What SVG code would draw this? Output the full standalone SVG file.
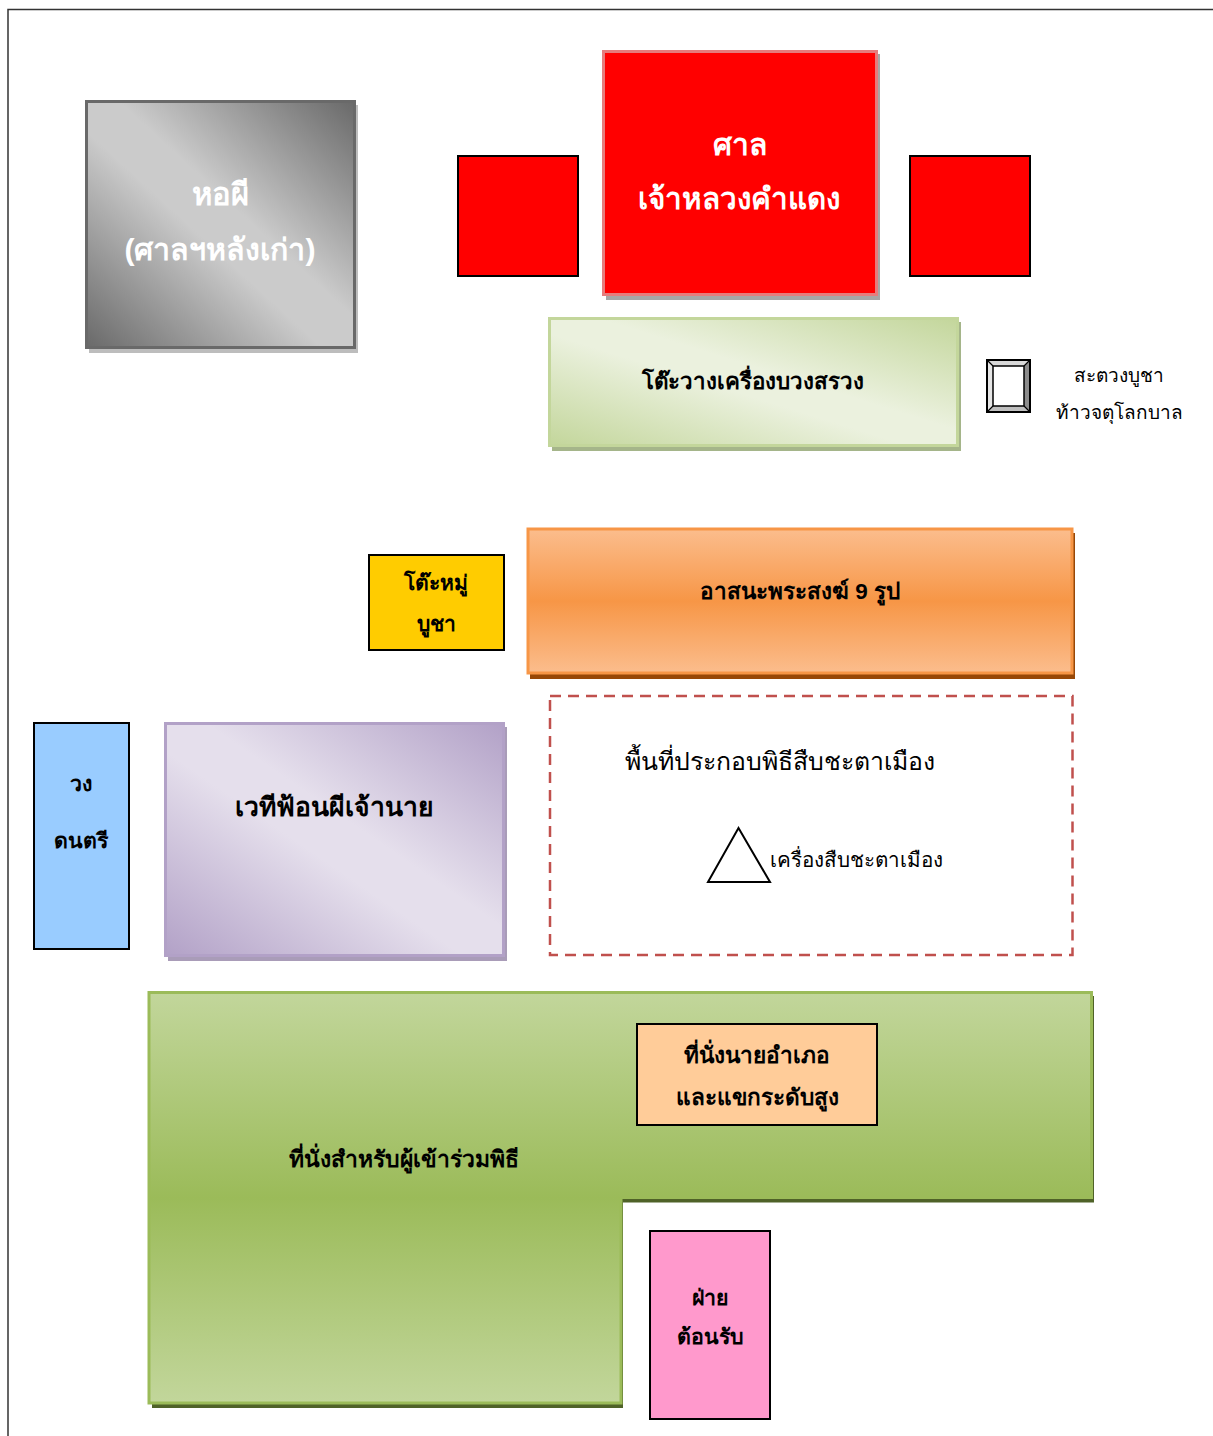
<svg xmlns="http://www.w3.org/2000/svg" width="1213" height="1436" viewBox="0 0 1213 1436">
<style>
text{font-family:"Liberation Sans","Noto Sans",sans-serif;text-anchor:middle;fill:#000}
.b{font-weight:700}
.k{stroke:#000;stroke-width:2}
</style>
<defs>
<linearGradient id="gGray" x1="1" y1="0" x2="0" y2="1"><stop offset="0" stop-color="#696969"/><stop offset=".44" stop-color="#cbcbcb"/><stop offset=".56" stop-color="#cbcbcb"/><stop offset="1" stop-color="#696969"/></linearGradient>
<linearGradient id="gLime" x1="1" y1="0" x2="0" y2="1"><stop offset="0" stop-color="#c3d69b"/><stop offset=".44" stop-color="#ebf1de"/><stop offset=".56" stop-color="#ebf1de"/><stop offset="1" stop-color="#c3d69b"/></linearGradient>
<linearGradient id="gPurple" x1="1" y1="0" x2="0" y2="1"><stop offset="0" stop-color="#b2a1c7"/><stop offset=".44" stop-color="#e5dfec"/><stop offset=".56" stop-color="#e5dfec"/><stop offset="1" stop-color="#b2a1c7"/></linearGradient>
<linearGradient id="gOrange" x1="0" y1="0" x2="0" y2="1"><stop offset="0" stop-color="#fbbd8d"/><stop offset=".5" stop-color="#f79646"/><stop offset="1" stop-color="#fbbd8d"/></linearGradient>
<linearGradient id="gGreen" x1="0" y1="0" x2="0" y2="1"><stop offset="0" stop-color="#c2d69b"/><stop offset=".5" stop-color="#9bbb59"/><stop offset="1" stop-color="#c2d69b"/></linearGradient>
</defs>
<rect width="1213" height="1436" fill="#fff"/>
<g id="page-frame"><path d="M8 1436V9.500H1213" fill="none" stroke="#333" stroke-width="1.500"/></g>
<g id="connectors"/>
<g id="ghost-house">
<rect x="89" y="105" width="269" height="248" fill="#bdbdbd"/>
<rect x="86.500" y="101.500" width="268" height="246" fill="url(#gGray)" stroke="#696969" stroke-width="3"/>
<text class="b" x="220" y="205" font-size="31" style="fill:#fff">หอผี</text>
<text class="b" x="220" y="260" font-size="30.300" style="fill:#fff">(ศาลฯหลังเก่า)</text>
</g>
<g id="side-left"><rect class="k" x="458" y="156" width="120" height="120" fill="#f00"/></g>
<g id="side-right"><rect class="k" x="910" y="156" width="120" height="120" fill="#f00"/></g>
<g id="main-shrine">
<rect x="606" y="54" width="274" height="246" fill="#a6a6a6"/>
<rect x="603.500" y="51.500" width="273" height="243" fill="#f00" stroke="#e67c7c" stroke-width="3"/>
<text class="b" x="740" y="155" font-size="30" style="fill:#fff">ศาล</text>
<text class="b" x="739" y="209" font-size="29.600" style="fill:#fff">เจ้าหลวงคำแดง</text>
</g>
<g id="offering-table">
<rect x="552" y="322" width="409" height="129" fill="#a5b58a"/>
<rect x="549.500" y="318.500" width="408" height="127" fill="url(#gLime)" stroke="#c3d69b" stroke-width="3"/>
<text class="b" x="753" y="389" font-size="22.300">โต๊ะวางเครื่องบวงสรวง</text>
</g>
<g id="lantern">
<rect x="987" y="360" width="43" height="52" fill="#fff"/>
<path d="M987 360h43l-6 6h-31z" fill="#d9d9d9"/>
<path d="M1030 360v52l-6-6v-40z" fill="#8c8c8c"/>
<path d="M987 412h43l-6-6h-31z" fill="#bfbfbf"/>
<path d="M987 360v52l6-6v-40z" fill="#e6e6e6"/>
<rect x="993" y="366" width="31" height="40" fill="#fff" stroke="#000" stroke-width="1.500"/>
<rect class="k" x="987" y="360" width="43" height="52" fill="none"/>
<path d="M987 360l6 6M1030 360l-6 6M987 412l6-6M1030 412l-6-6" stroke="#000" stroke-width="1.200"/>
</g>
<g id="lantern-label">
<text x="1119" y="382" font-size="19">สะตวงบูชา</text>
<text x="1119" y="419" font-size="19">ท้าวจตุโลกบาล</text>
</g>
<g id="altar-table">
<rect class="k" x="369" y="555" width="135" height="95" fill="#fc0"/>
<text class="b" x="436" y="590" font-size="21">โต๊ะหมู่</text>
<text class="b" x="436" y="631" font-size="21">บูชา</text>
</g>
<g id="monks-seat">
<rect x="530" y="533" width="545" height="146" fill="#984807"/>
<rect x="528" y="529" width="544" height="144" fill="url(#gOrange)" stroke="#f79646" stroke-width="3"/>
<text class="b" x="800" y="599" font-size="22.500">อาสนะพระสงฆ์ 9 รูป</text>
</g>
<g id="music-band">
<rect class="k" x="34" y="723" width="95" height="226" fill="#9cf"/>
<text class="b" x="81" y="791" font-size="21.300">วง</text>
<text class="b" x="81" y="848" font-size="21.300">ดนตรี</text>
</g>
<g id="dance-stage">
<rect x="168" y="727" width="339" height="234" fill="#a99cb8"/>
<rect x="165.500" y="723.500" width="338" height="232" fill="url(#gPurple)" stroke="#b2a1c7" stroke-width="3"/>
<text class="b" x="334" y="816" font-size="26.500">เวทีฟ้อนผีเจ้านาย</text>
</g>
<g id="ceremony-area">
<rect x="550" y="696" width="522.500" height="259" fill="#fff" stroke="#c0504d" stroke-width="2.500" stroke-dasharray="11 7"/>
<text x="780" y="770" font-size="24.800">พื้นที่ประกอบพิธีสืบชะตาเมือง</text>
</g>
<g id="ceremony-device">
<path d="M738.500 828L770 882H708z" fill="#fff" stroke="#000" stroke-width="2"/>
<text x="856.500" y="867" font-size="20.600">เครื่องสืบชะตาเมือง</text>
</g>
<g id="audience-seats">
<path d="M152 996H1094V1202.500H623V1408H152z" fill="#4f6228"/>
<path d="M149 992.500H1091.500V1197.500H621V1403H149z" fill="url(#gGreen)" stroke="#9bbb59" stroke-width="3"/>
<text class="b" x="404" y="1167" font-size="22.900">ที่นั่งสำหรับผู้เข้าร่วมพิธี</text>
</g>
<g id="vip-seats">
<rect class="k" x="637" y="1024" width="240" height="101" fill="#fc9"/>
<text class="b" x="757" y="1063" font-size="22.600">ที่นั่งนายอำเภอ</text>
<text class="b" x="757" y="1105" font-size="22.600">และแขกระดับสูง</text>
</g>
<g id="reception">
<rect class="k" x="650" y="1231" width="120" height="188" fill="#f9c"/>
<text class="b" x="710" y="1305" font-size="21.300">ฝ่าย</text>
<text class="b" x="710" y="1344" font-size="21.300">ต้อนรับ</text>
</g>
</svg>
